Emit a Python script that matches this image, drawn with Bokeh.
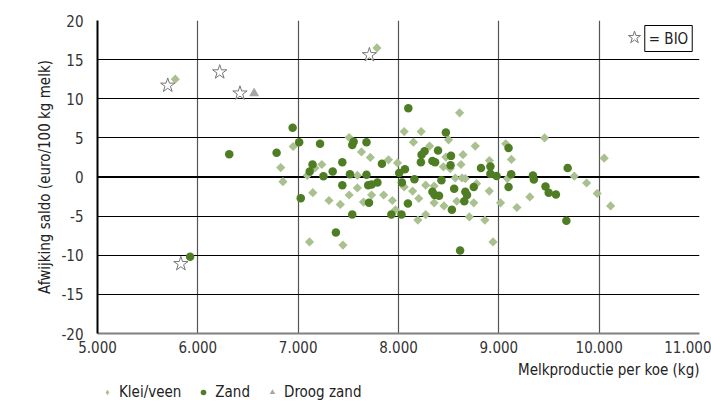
from math import pi
from bokeh.plotting import figure
from bokeh.layouts import column
from bokeh.models import FixedTicker, Legend, LegendItem, Label, Span, Title
from bokeh.embed import file_html
from bokeh.resources import INLINE

FONT = "DejaVu Sans Condensed"

# ---- data ----
x_ticks = [5000, 6000, 7000, 8000, 9000, 10000, 11000]
x_tick_labels = ["5.000", "6.000", "7.000", "8.000", "9.000", "10.000", "11.000"]
y_ticks = [-20, -15, -10, -5, 0, 5, 10, 15, 20]
y_tick_labels = ["-20", "-15", "-10", "-5", "0", "5", "10", "15", "20"]

klei_x = [5775, 7785, 6950, 7508, 7631, 7719, 7900, 6826, 7236, 7168, 7091, 6848, 7590, 7590,
          7508, 7732, 7852, 7146, 7307, 7420, 7651, 7939, 7113, 7446,
          8609, 8057, 8226, 8149, 8310, 8499, 8765, 7990, 8472, 8643, 8623, 8447, 8515, 8906,
          8566, 8633, 8666, 8778, 8271, 8355, 8057, 8141, 8202, 8355, 8453, 8581, 8750, 8905,
          9017, 7970, 8271, 8193, 8706, 8861, 8942,
          9456, 9125, 9085, 9752, 9875, 10050, 9980, 10114, 9309, 9180, 9068]
klei_y = [12.5, 16.5, 3.9, 5.05, 3.2, 2.5, 2.2, 1.2, 1.6, 1.15, 0.2, -0.6, 0.2, -1.4,
          -2.3, -2.3, -2.3, -2.0, -3.0, -3.5, -3.2, -3.0, -8.3, -8.7,
          8.2, 5.8, 5.8, 4.45, 3.95, 4.75, 3.95, 1.8, 2.55, 2.85, 1.6, 1.3, 1.07, 2.1,
          -0.13, -0.13, -0.2, -0.85, -1.05, -1.15, -1.27, -1.8, -2.75, -3.3, -3.7, -3.1, -3.3, -1.8,
          -3.3, -4.2, -4.8, -5.5, -5.1, -5.5, -8.3,
          5.0, 2.25, -0.2, 0.1, -0.77, 2.4, -2.1, -3.7, -2.55, -3.9, 4.25]

zand_x = [5923, 6313,
          6945, 7010, 6785, 7218, 7539, 7553, 7681, 7835, 7440, 7143, 7115, 7344, 7252, 7516,
          7681, 7440, 7698, 7732, 7790, 7026, 7706, 7539, 7929, 7376,
          8098, 8472, 8260, 8230, 8394, 8523, 8223, 8338, 8365, 8519, 8822, 8916, 8064, 8007,
          8916, 8977, 8159, 8428, 8034, 8750, 8555, 8338, 8666, 8360, 8404, 8683, 8656, 8094,
          8532, 8030, 8614,
          9097, 9123, 9097, 9340, 9349, 9686, 9465, 9497, 9569, 9673]
zand_y = [-10.2, 2.9,
          6.3, 4.45, 3.1, 4.25, 4.1, 4.5, 4.45, 1.7, 1.9, 1.6, 0.7, 0.7, 0.1, 0.35,
          0.3, -1.05, -1.05, -0.97, -0.7, -2.7, -3.3, -4.8, -4.8, -7.1,
          8.8, 5.7, 3.3, 2.85, 3.4, 2.7, 1.9, 2.05, 1.9, 1.5, 1.15, 1.35, 0.98, 0.5,
          0.4, 0.13, -0.3, -0.4, -0.7, -1.27, -1.5, -1.9, -1.9, -2.3, -2.4, -2.3, -3.1, -3.4,
          -4.2, -4.8, -9.4,
          3.7, 0.35, -1.27, 0.2, -0.33, 1.15, -1.2, -2.0, -2.25, -5.6]

droog_x = [6561]
droog_y = [10.7]

bio_x = [5700, 6218, 6420, 7710, 5831]
bio_y = [11.7, 13.4, 10.7, 15.6, -11.1]

KLEI_COLOR = "#a9c08f"
ZAND_COLOR = "#4f7d24"
DROOG_COLOR = "#a6a6a6"

# ---- main figure ----
p = figure(width=711, height=382, x_range=(5000, 11000), y_range=(-20, 20),
           output_backend="svg", toolbar_location=None,
           min_border_left=97, min_border_right=12, min_border_top=20, min_border_bottom=47)
p.outline_line_color = None
p.background_fill_color = "white"

p.xaxis.ticker = FixedTicker(ticks=x_ticks)
p.yaxis.ticker = FixedTicker(ticks=y_ticks)
p.xaxis.major_label_overrides = dict(zip(x_ticks, x_tick_labels))
p.yaxis.major_label_overrides = dict(zip(y_ticks, y_tick_labels))

for ax in (p.xaxis[0], p.yaxis[0]):
    ax.major_tick_line_color = None
    ax.minor_tick_line_color = None
    ax.major_label_text_font = FONT
    ax.major_label_text_font_size = "15px"
    ax.major_label_text_color = "#333333"
    ax.axis_label_text_font = FONT
    ax.axis_label_text_font_size = "15px"
    ax.axis_label_text_font_style = "normal"
    ax.axis_label_text_color = "#222222"

p.yaxis.axis_line_color = "black"
p.yaxis.axis_line_width = 2
p.yaxis.major_label_standoff = 8
p.yaxis.axis_label = "Afwijking saldo (euro/100 kg melk)"
p.yaxis.axis_label_standoff = 4

p.xaxis.axis_line_color = "#808080"
p.xaxis.axis_line_width = 2
p.xaxis.major_label_standoff = 1

p.add_layout(Title(text="Melkproductie per koe (kg)", align="right", standoff=7,
                   text_font=FONT, text_font_size="15px", text_font_style="normal",
                   text_color="#222222"), "below")

p.xgrid.grid_line_color = "#555555"
p.xgrid.grid_line_width = 1.2
p.ygrid.grid_line_color = "black"
p.ygrid.grid_line_width = 1.2

p.add_layout(Span(location=0, dimension="width", line_color="black", line_width=2, level="underlay"))

klei = p.scatter(klei_x, klei_y, marker="square", angle=pi / 4, size=6.5,
                 fill_color=KLEI_COLOR, line_color=None)
zand = p.scatter(zand_x, zand_y, marker="circle", size=8.5,
                 fill_color=ZAND_COLOR, line_color=None)
droog = p.scatter(droog_x, droog_y, marker="triangle", size=10,
                  fill_color=DROOG_COLOR, line_color=None)
bio = p.scatter(bio_x, bio_y, marker="star", size=15,
                fill_color="white", line_color="#777777", line_width=1)

bio_legend = Legend(items=[LegendItem(label="", renderers=[bio])],
                    location=(521, 280), border_line_color=None, background_fill_alpha=0,
                    padding=0, margin=0, glyph_width=32, glyph_height=32,
                    label_standoff=0, label_width=0)
p.add_layout(bio_legend)

p.add_layout(Label(x=571, y=295, x_units="screen", y_units="screen", text="= BIO",
                   text_align="center", text_baseline="middle",
                   text_font=FONT, text_font_size="15px", text_color="#222222",
                   border_line_color="black", border_line_width=1,
                   background_fill_color="white", padding=4))

# ---- legend strip (series drawn out of view; only the legend shows) ----
lg = figure(width=711, height=20, x_range=(0, 1), y_range=(0, 1),
            output_backend="svg", toolbar_location=None,
            min_border_left=0, min_border_right=0, min_border_top=0, min_border_bottom=0)
lg.axis.visible = False
lg.grid.visible = False
lg.outline_line_color = None
k2 = lg.scatter(klei_x, klei_y, marker="diamond", size=9,
                fill_color=KLEI_COLOR, line_color=None)
z2 = lg.scatter(zand_x, zand_y, marker="circle", size=8.5, fill_color=ZAND_COLOR, line_color=None)
d2 = lg.scatter(droog_x, droog_y, marker="triangle", size=10, fill_color=DROOG_COLOR, line_color=None)
legend = Legend(items=[("Klei/veen", [k2]), ("Zand", [z2]), ("Droog zand", [d2])],
                orientation="horizontal", location=(3, 1),
                border_line_color=None, background_fill_alpha=0,
                padding=0, margin=0, spacing=15, glyph_width=14, glyph_height=16,
                label_standoff=5, label_text_font=FONT, label_text_font_size="15px",
                label_text_color="#222222", label_height=16)
lg.add_layout(legend)

layout = column(p, lg, spacing=0)
open("out.html", "w").write(file_html(layout, INLINE))
